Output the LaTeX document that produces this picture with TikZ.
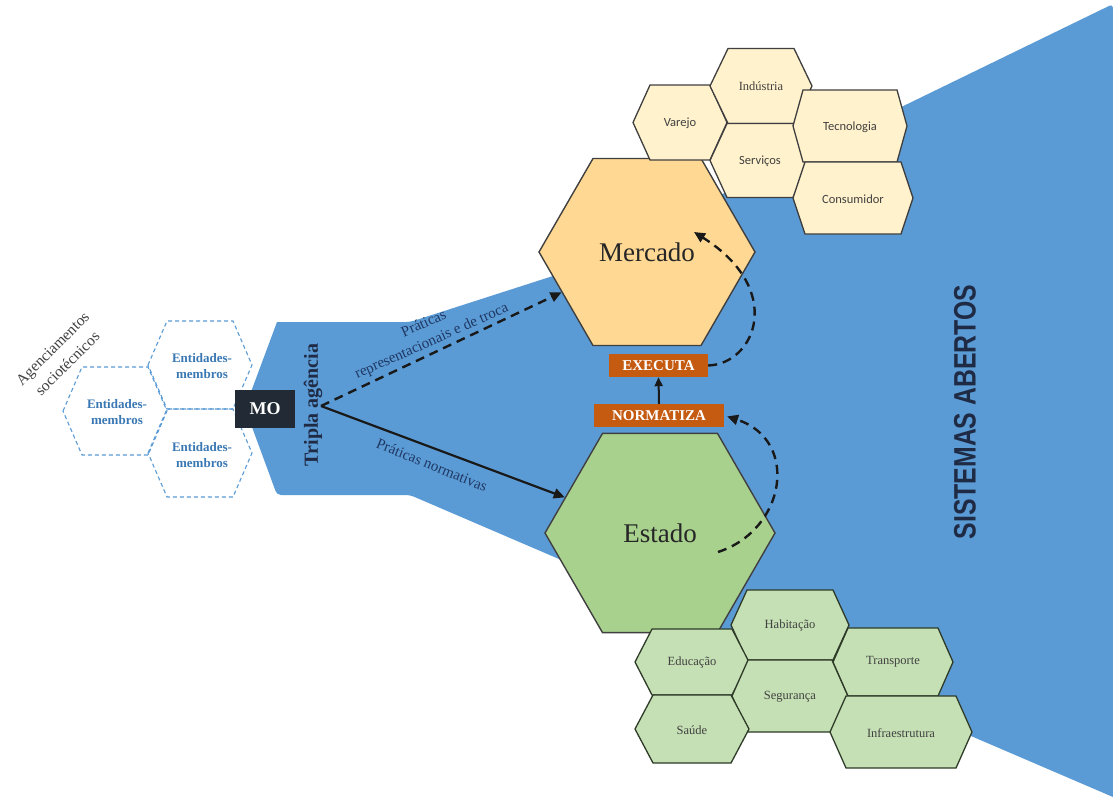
\documentclass[tikz,border=0pt]{standalone}
\usepackage{fontspec}
\setmainfont{Liberation Serif}
\newfontfamily\calib{Carlito}
\newfontfamily\condsans[FakeStretch=0.8]{Liberation Sans}
\usetikzlibrary{arrows.meta,shapes.geometric}
\definecolor{sysblue}{HTML}{5B9BD5}
\definecolor{enttext}{HTML}{3A78B4}
\definecolor{mofill}{HTML}{222A35}
\definecolor{navy}{HTML}{1F2A44}
\definecolor{lbltext}{HTML}{1F3864}
\definecolor{mercfill}{HTML}{FFD993}
\definecolor{estfill}{HTML}{A9D18E}
\definecolor{ylwfill}{HTML}{FFF2CC}
\definecolor{ylwline}{HTML}{3F3F3F}
\definecolor{grnfill}{HTML}{C5E0B4}
\definecolor{grnline}{HTML}{2E3B28}
\definecolor{actorange}{HTML}{C55A11}
\definecolor{txtgray}{HTML}{404040}
\newcommand{\hexat}[6]{\path[#1] ({#2-#4},#3) -- ({#2-#5},{#3-#6}) -- ({#2+#5},{#3-#6}) -- ({#2+#4},#3) -- ({#2+#5},{#3+#6}) -- ({#2-#5},{#3+#6}) -- cycle;}
\tikzset{
  ent/.style={draw=sysblue, line width=1.1pt, dash pattern=on 4pt off 3pt},
  enttxt/.style={font=\bfseries\fontsize{13}{16}\selectfont, text=enttext, align=center},
  ylw/.style={fill=ylwfill, draw=ylwline, line width=1.3pt},
  grn/.style={fill=grnfill, draw=grnline, line width=1.3pt},
  ytxt/.style={font=\calib\fontsize{12.5}{15}\selectfont, text=txtgray},
  stxt/.style={font=\fontsize{12.5}{15}\selectfont, text=txtgray},
  bighex/.style={regular polygon, regular polygon sides=6, draw=txtgray, line width=1.4pt, inner sep=0pt, font=\fontsize{27}{30}\selectfont, text=black!85},
  actbox/.style={fill=actorange, text=white, font=\bfseries\fontsize{15}{17}\selectfont, inner sep=0pt, minimum height=23pt},
  dasharrow/.style={draw=black!90, line width=2.4pt, dash pattern=on 9pt off 6pt, -{Triangle[length=11pt,width=10pt]}},
  solidarrow/.style={draw=black!90, line width=2.2pt, -{Triangle[length=11pt,width=10pt]}},
  lbl/.style={text=lbltext, font=\fontsize{15}{19}\selectfont, align=center}
}
\begin{document}
\begin{tikzpicture}[x=1pt,y=-1pt]
\useasboundingbox (0,0) rectangle (1113,801);
\fill[white] (0,0) rectangle (1113,801);
% open systems funnel
\fill[sysblue, rounded corners=4pt] (277,322) -- (410,322) -- (556,275) -- (1113,4) [sharp corners] -- (1113,797) [rounded corners=4pt] -- (410,495) -- (277,495) [sharp corners] -- (245,408) -- cycle;
% dashed member hexagons
\hexat{ent}{115}{411}{52}{33}{44}
\hexat{ent}{200}{365}{52}{33}{44}
\hexat{ent}{200}{453}{52}{33}{44}
\node[enttxt] (e1) at (117,412) {Entidades-\\membros};
\node[enttxt] (e2) at (202,366) {Entidades-\\membros};
\node[enttxt] (e3) at (202,455) {Entidades-\\membros};
\node[rotate=45, align=center, text=txtgray, font=\fontsize{15.5}{21}\selectfont] (agen) at (60,356) {Agenciamentos\\sociotécnicos};
% MO
\node[fill=mofill, text=white, font=\bfseries\fontsize{18}{20}\selectfont, minimum width=60pt, minimum height=38pt, inner sep=0pt] (mo) at (265,409) {MO};
\node[rotate=90, text=navy, font=\bfseries\fontsize{20}{22}\selectfont] (tripla) at (313,405) {Tripla agência};
\coordinate (src) at (321,406);
% big hexagons
\node[bighex, minimum size=216pt, fill=mercfill] (merc) at (647,252) {Mercado};
\node[bighex, minimum size=230pt, fill=estfill] (est) at (660,533) {Estado};
% arrows from MO
\draw[dasharrow] (src) -- (merc);
\draw[solidarrow] (src) -- (est);
\node[lbl, rotate=24] (l1) at (428,333) {Práticas\\representacionais e de troca};
\node[lbl, rotate=-22] (l2) at (432,465) {Práticas normativas};
% small yellow hexagons
\hexat{ylw}{680}{122.5}{47}{30}{37.5}
\hexat{ylw}{761}{86}{51}{33}{37.5}
\hexat{ylw}{760}{160.5}{50}{33}{37}
\hexat{ylw}{850}{126}{57}{47}{36}
\hexat{ylw}{853}{198}{60}{48}{36}
\node[ytxt] (varejo) at (680,123) {Varejo};
\node[stxt] (ind) at (761,86) {Indústria};
\node[ytxt] (serv) at (760,161) {Serviços};
\node[ytxt] (tec) at (850,127) {Tecnologia};
\node[ytxt] (cons) at (853,199) {Consumidor};
% small green hexagons
\hexat{grn}{790}{625}{59}{43}{35}
\hexat{grn}{692}{662}{57}{40}{33}
\hexat{grn}{790}{696}{58}{42}{36}
\hexat{grn}{692}{729}{57}{39}{34}
\hexat{grn}{893}{662}{60}{45}{34}
\hexat{grn}{901}{732}{71}{55}{36}
\node[stxt] (hab) at (790,625) {Habitação};
\node[stxt] (edu) at (692,662) {Educação};
\node[stxt] (seg) at (790,697) {Segurança};
\node[stxt] (sau) at (692,730) {Saúde};
\node[stxt] (tra) at (893,662) {Transporte};
\node[stxt] (inf) at (901,733) {Infraestrutura};
% action boxes
\node[actbox, minimum width=99pt] (exec) at (658.5,365.5) {EXECUTA};
\node[actbox, minimum width=130pt] (norm) at (659,415.5) {NORMATIZA};
\draw[solidarrow, line width=2pt, -{Triangle[length=9pt,width=8pt]}] (norm.north) -- (exec.south);
\coordinate (mtip) at (694,232);
\coordinate (etail) at (718,552);
\draw[dasharrow] (exec.east) .. controls (755,364) and (786,290) .. (mtip);
\draw[dasharrow, shorten >=3pt] (etail) .. controls (786,530) and (800,440) .. (norm.east);
% system label
\node[rotate=90, text=navy, font=\condsans\bfseries\fontsize{31}{32}\selectfont] (sis) at (965,412) {SISTEMAS ABERTOS};
\end{tikzpicture}
\end{document}
